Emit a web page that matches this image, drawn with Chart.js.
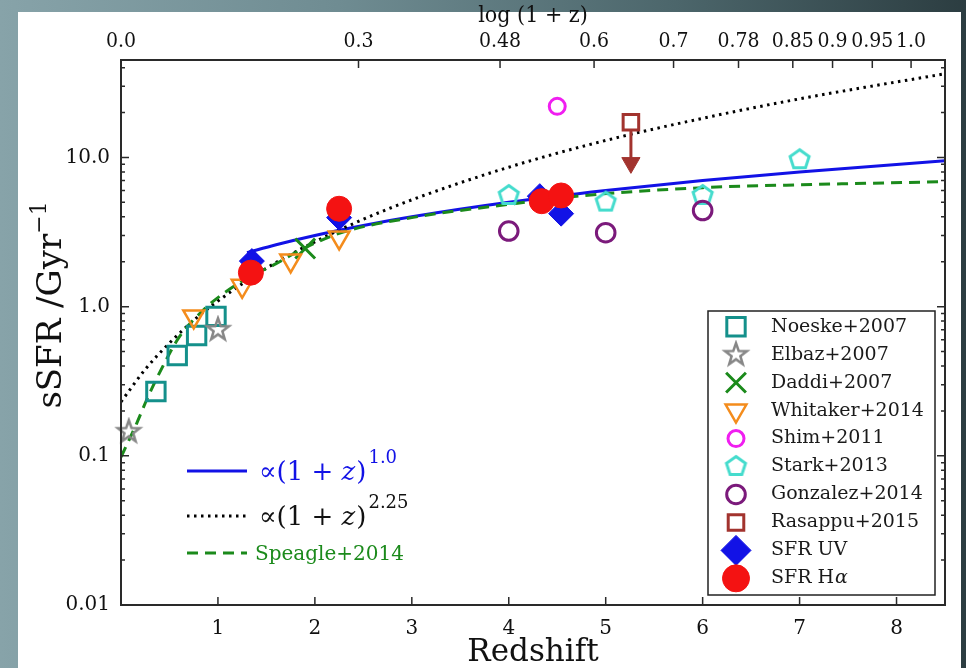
<!DOCTYPE html>
<html lang="en">
<head>
  <meta charset="UTF-8" />
  <title>sSFR vs Redshift</title>
  <script src="https://cdn.jsdelivr.net/npm/chart.js"></script>
  <style>
    * { margin: 0; padding: 0; box-sizing: border-box; }
    body {
      width: 966px;
      height: 668px;
      overflow: hidden;
      position: relative;
      background: linear-gradient(90deg, #87a3a9 0%, #6f8c92 35%, #4c666b 70%, #2c3d41 100%);
    }
    .panel {
      position: absolute;
      left: 18px;
      top: 12px;
      width: 943px;
      height: 656px;
      background: #fff;
    }
    #chart {
      position: absolute;
      left: 0;
      top: 0;
    }
  </style>
</head>
<body>
  <div class="panel"></div>
  <canvas id="chart" width="966" height="668"></canvas>

  <script>
    // ---- data ----
    const noeskeZ = [0.36, 0.58, 0.78, 0.98];
    const noeskeS = [0.27, 0.47, 0.64, 0.86];
    const elbazZ = [0.08, 1.0];
    const elbazS = [0.145, 0.70];
    const daddiZ = [1.9];
    const daddiS = [2.45];
    const whitakerZ = [0.75, 1.25, 1.75, 2.25];
    const whitakerS = [0.86, 1.38, 2.04, 2.91];
    const shimZ = [4.5];
    const shimS = [22.0];
    const starkZ = [4.0, 5.0, 6.0, 7.0];
    const starkS = [5.56, 5.02, 5.56, 9.66];
    const gonzalezZ = [4.0, 5.0, 6.0];
    const gonzalezS = [3.21, 3.13, 4.41];
    const rasappuZ = [5.26];
    const rasappuS = [17.2];
    const rasappuArrowZ = [5.26, 5.26];
    const rasappuArrowS = [15.2, 9.8];
    const rasappuHeadS = [9.2];
    const uvZ = [1.35, 2.25, 4.32, 4.54];
    const uvS = [2.02, 3.95, 5.5, 4.2];
    const haZ = [1.34, 2.25, 4.34, 4.54];
    const haS = [1.69, 4.53, 5.09, 5.56];

    // model curves
    const pow1Z = [1.3, 1.6, 2.0, 2.5, 3.0, 4.0, 5.0, 6.0, 7.0, 8.5];
    const pow1S = [2.3, 2.6, 3.0, 3.5, 4.0, 5.0, 6.0, 7.0, 8.0, 9.5];
    const pow225Z = [0, 0.25, 0.5, 0.75, 1, 1.5, 2, 2.5, 3, 4, 5, 6, 7, 8.5];
    const pow225S = [0.23, 0.38, 0.57, 0.81, 1.09, 1.81, 2.72, 3.85, 5.2, 8.6, 13.0, 18.3, 24.7, 36.4];
    const speagleZ = [0, 0.16, 0.28, 0.45, 0.6, 0.88, 1.0, 1.3, 1.6, 1.81, 2.25, 3, 4, 4.7, 6, 7.16, 8.5];
    const speagleS = [0.098, 0.164, 0.25, 0.42, 0.625, 0.99, 1.15, 1.55, 1.94, 2.32, 3.1, 3.95, 4.85, 5.5, 6.27, 6.59, 6.88];

    // axes
    const xTicks = [1, 2, 3, 4, 5, 6, 7, 8];
    const yTicks = [0.01, 0.1, 1, 10];
    const yTickLabels = ['0.01', '0.1', '1.0', '10.0'];
    const topTickZ = [0, 2.45, 3.91, 4.88, 5.70, 6.37, 6.93, 7.34, 7.75, 8.15];
    const topTickLabels = ['0.0', '0.3', '0.48', '0.6', '0.7', '0.78', '0.85', '0.9', '0.95', '1.0'];

    const TEAL = '#14908b', GREY = '#878787', GREEN = '#1b8a1b', ORANGE = '#f48c1c';
    const MAGENTA = '#f01ef0', TURQ = '#45dccd', PURPLE = '#7b1a7b', BROWN = '#a2332e';
    const BLUE = '#1212e6', RED = '#f41212';
    const NONE = 'rgba(0,0,0,0)';

    function pts(zs, ss) {
      return zs.map((z, i) => ({ x: z, y: ss[i] }));
    }

    // hollow star / pentagon marker drawn once to a small canvas
    function polyMarker(n, r, inner, color, lw) {
      const size = Math.ceil(2 * r + lw + 4);
      const c = document.createElement('canvas');
      c.width = c.height = size;
      const g = c.getContext('2d');
      g.translate(size / 2, size / 2);
      const steps = inner ? n * 2 : n;
      g.beginPath();
      for (let i = 0; i < steps; i++) {
        const rr = inner && i % 2 ? inner : r;
        const a = -Math.PI / 2 + i * 2 * Math.PI / steps;
        if (i === 0) g.moveTo(rr * Math.cos(a), rr * Math.sin(a));
        else g.lineTo(rr * Math.cos(a), rr * Math.sin(a));
      }
      g.closePath();
      g.strokeStyle = color;
      g.lineWidth = lw;
      g.lineJoin = 'miter';
      g.stroke();
      return c;
    }

    const starImg = polyMarker(5, 11.5, 4.6, GREY, 2.5);
    const pentImg = polyMarker(5, 10, 0, TURQ, 3);

    function markers(label, zs, ss, style, radius, color, fill, lw, order, rot) {
      return {
        label, data: pts(zs, ss), showLine: false, order, clip: false,
        pointStyle: style, pointRadius: radius, pointRotation: rot || 0,
        pointBorderColor: color, pointBackgroundColor: fill, pointBorderWidth: lw
      };
    }

    const markerSets = [
      markers('Noeske+2007', noeskeZ, noeskeS, 'rect', 13, TEAL, NONE, 3, 10),
      markers('Elbaz+2007', elbazZ, elbazS, starImg, 10, GREY, NONE, 2.5, 9),
      markers('Daddi+2007', daddiZ, daddiS, 'crossRot', 14, GREEN, NONE, 3, 8),
      markers('Whitaker+2014', whitakerZ, whitakerS, 'triangle', 12, ORANGE, NONE, 2.5, 7, 180),
      markers('Shim+2011', shimZ, shimS, 'circle', 8, MAGENTA, NONE, 3, 6),
      markers('Stark+2013', starkZ, starkS, pentImg, 10, TURQ, NONE, 3, 5),
      markers('Gonzalez+2014', gonzalezZ, gonzalezS, 'circle', 9.3, PURPLE, NONE, 3, 4),
      markers('Rasappu+2015', rasappuZ, rasappuS, 'rect', 11, BROWN, NONE, 3, 2),
      markers('SFR UV', uvZ, uvS, 'rectRot', 12.5, BLUE, BLUE, 1, 1),
      markers('SFR H', haZ, haS, 'circle', 12.5, RED, RED, 1, 0)
    ];

    function curve(zs, ss, color, dash, order) {
      return {
        data: pts(zs, ss), showLine: true, order,
        borderColor: color, borderWidth: 3, borderDash: dash, borderCapStyle: 'butt',
        pointRadius: 0, cubicInterpolationMode: 'monotone'
      };
    }

    const lineSets = [
      curve(pow1Z, pow1S, BLUE, [], 13),
      curve(pow225Z, pow225S, '#000', [2.5, 4.5], 12),
      curve(speagleZ, speagleS, GREEN, [11, 7], 11),
      curve(rasappuArrowZ, rasappuArrowS, BROWN, [], 3),
      markers('', [rasappuZ[0]], rasappuHeadS, 'triangle', 10.5, BROWN, BROWN, 1, 2.5, 180)
    ];

    const tickFont = { family: 'DejaVu Serif', size: 20 };

    const framePlugin = {
      id: 'frame',
      afterDatasetsDraw(chart) {
        const { ctx, chartArea: a, scales } = chart;
        ctx.save();
        ctx.strokeStyle = '#2a2a2a';
        ctx.lineWidth = 2;
        ctx.strokeRect(a.left, a.top, a.right - a.left, a.bottom - a.top);
        ctx.lineWidth = 1.5;
        ctx.beginPath();
        yTicks.forEach(v => {
          const y = scales.y.getPixelForValue(v);
          ctx.moveTo(a.left, y); ctx.lineTo(a.left + 8, y);
          ctx.moveTo(a.right, y); ctx.lineTo(a.right - 8, y);
          for (let m = 2; m < 10; m++) {
            if (v * m > scales.y.max) break;
            const my = scales.y.getPixelForValue(v * m);
            ctx.moveTo(a.left, my); ctx.lineTo(a.left + 4, my);
            ctx.moveTo(a.right, my); ctx.lineTo(a.right - 4, my);
          }
        });
        xTicks.forEach(v => {
          const x = scales.x.getPixelForValue(v);
          ctx.moveTo(x, a.bottom); ctx.lineTo(x, a.bottom - 8);
        });
        topTickZ.forEach(v => {
          const x = scales.x2.getPixelForValue(v);
          ctx.moveTo(x, a.top); ctx.lineTo(x, a.top + 8);
        });
        ctx.stroke();
        ctx.restore();
      },
      afterDraw(chart) {
        const { ctx, chartArea: a } = chart;
        const H = Chart.helpers;
        ctx.save();
        ctx.fillStyle = '#111';
        ctx.textAlign = 'center';
        ctx.textBaseline = 'alphabetic';

        // axis titles
        ctx.font = '31px "DejaVu Serif"';
        ctx.fillText('Redshift', (a.left + a.right) / 2, 661);
        ctx.font = '23px "DejaVu Serif Condensed", "DejaVu Serif"';
        ctx.fillText('log (1 + z)', (a.left + a.right) / 2, 22);

        ctx.save();
        ctx.translate(61, 305);
        ctx.rotate(-Math.PI / 2);
        const main = 'sSFR /Gyr';
        ctx.font = '22px "DejaVu Serif"';
        const supW = ctx.measureText('\u22121').width;
        ctx.font = '34px "DejaVu Serif"';
        const mainW = ctx.measureText(main).width;
        ctx.textAlign = 'left';
        ctx.fillText(main, -(mainW + supW) / 2, 0);
        ctx.font = '22px "DejaVu Serif"';
        ctx.fillText('\u22121', -(mainW + supW) / 2 + mainW, -15);
        ctx.restore();

        // framed legend of the data sets
        ctx.fillStyle = '#fff';
        ctx.fillRect(708, 311, 227, 284);
        ctx.strokeStyle = '#222';
        ctx.lineWidth = 1.5;
        ctx.strokeRect(708, 311, 227, 284);
        const legendR = { 'SFR UV': 15, 'SFR H': 13.5 };
        markerSets.forEach((ds, i) => {
          const y = 326.7 + i * 27.96;
          ctx.save();
          ctx.strokeStyle = ds.pointBorderColor;
          ctx.fillStyle = ds.pointBackgroundColor;
          ctx.lineWidth = ds.pointBorderWidth;
          H.drawPoint(ctx, {
            pointStyle: ds.pointStyle,
            radius: legendR[ds.label] || ds.pointRadius,
            rotation: ds.pointRotation,
            borderWidth: ds.pointBorderWidth
          }, 736, y);
          ctx.restore();
          ctx.fillStyle = '#1a1a1a';
          ctx.textAlign = 'left';
          ctx.textBaseline = 'middle';
          ctx.font = '19px "DejaVu Serif"';
          ctx.fillText(ds.label, 771, y);
          if (ds.label === 'SFR H') {
            const w = ctx.measureText('SFR H').width;
            ctx.font = 'italic 19px "DejaVu Serif"';
            ctx.fillText('\u03b1', 771 + w + 1, y);
          }
        });

        // legend of the model curves
        const rows = [
          { y: 471, color: BLUE, dash: [], text: '\u221d(1 + ', sup: '1.0', textColor: BLUE },
          { y: 516, color: '#000', dash: [2.5, 4.5], text: '\u221d(1 + ', sup: '2.25', textColor: '#111' },
          { y: 553, color: GREEN, dash: [11, 7], text: 'Speagle+2014', textColor: GREEN }
        ];
        rows.forEach(r => {
          ctx.save();
          ctx.strokeStyle = r.color;
          ctx.lineWidth = 3;
          ctx.setLineDash(r.dash);
          ctx.beginPath();
          ctx.moveTo(187, r.y);
          ctx.lineTo(247, r.y);
          ctx.stroke();
          ctx.restore();
          ctx.fillStyle = r.textColor;
          ctx.textAlign = 'left';
          ctx.textBaseline = 'alphabetic';
          if (r.sup) {
            let x = 259;
            const base = r.y + 9;
            ctx.font = '26px "DejaVu Serif"';
            ctx.fillText(r.text, x, base);
            x += ctx.measureText(r.text).width;
            ctx.font = 'italic 26px "DejaVu Serif"';
            ctx.fillText('z', x, base);
            x += ctx.measureText('z').width + 1;
            ctx.font = '26px "DejaVu Serif"';
            ctx.fillText(')', x, base);
            x += ctx.measureText(')').width + 2;
            ctx.font = '18px "DejaVu Serif"';
            ctx.fillText(r.sup, x, base - 17);
          } else {
            ctx.font = '20px "DejaVu Serif"';
            ctx.fillText(r.text, 255, r.y + 7);
          }
        });
        ctx.restore();
      }
    };

    new Chart(document.getElementById('chart'), {
      type: 'scatter',
      data: { datasets: [...markerSets, ...lineSets] },
      options: {
        responsive: false,
        animation: false,
        devicePixelRatio: 1,
        events: [],
        layout: { padding: { left: 0, right: 21, top: 0, bottom: 0 }, autoPadding: false },
        plugins: { legend: { display: false }, tooltip: { enabled: false } },
        scales: {
          x: {
            type: 'linear', position: 'bottom', min: 0, max: 8.5,
            grid: { display: false, drawTicks: false }, border: { display: false },
            afterBuildTicks: s => { s.ticks = xTicks.map(v => ({ value: v })); },
            afterFit: s => { s.height = 63; },
            ticks: { autoSkip: false, maxRotation: 0, padding: 12, color: '#111', font: tickFont,
                     callback: v => String(v) }
          },
          x2: {
            type: 'linear', position: 'top', min: 0, max: 8.5,
            grid: { display: false, drawTicks: false }, border: { display: false },
            afterBuildTicks: s => { s.ticks = topTickZ.map(v => ({ value: v })); },
            afterFit: s => { s.height = 60; },
            ticks: { autoSkip: false, maxRotation: 0, padding: 6, color: '#111',
                     font: { family: '"DejaVu Serif Condensed", "DejaVu Serif"', size: 21 },
                     callback: (v, i) => topTickLabels[i] }
          },
          y: {
            type: 'logarithmic', min: 0.01, max: 45,
            grid: { display: false, drawTicks: false }, border: { display: false },
            afterBuildTicks: s => { s.ticks = yTicks.map(v => ({ value: v })); },
            afterFit: s => { s.width = 121; },
            ticks: { autoSkip: false, padding: 11, color: '#111', font: tickFont,
                     callback: (v, i) => yTickLabels[i] }
          }
        }
      },
      plugins: [framePlugin]
    });
  </script>
</body>
</html>
